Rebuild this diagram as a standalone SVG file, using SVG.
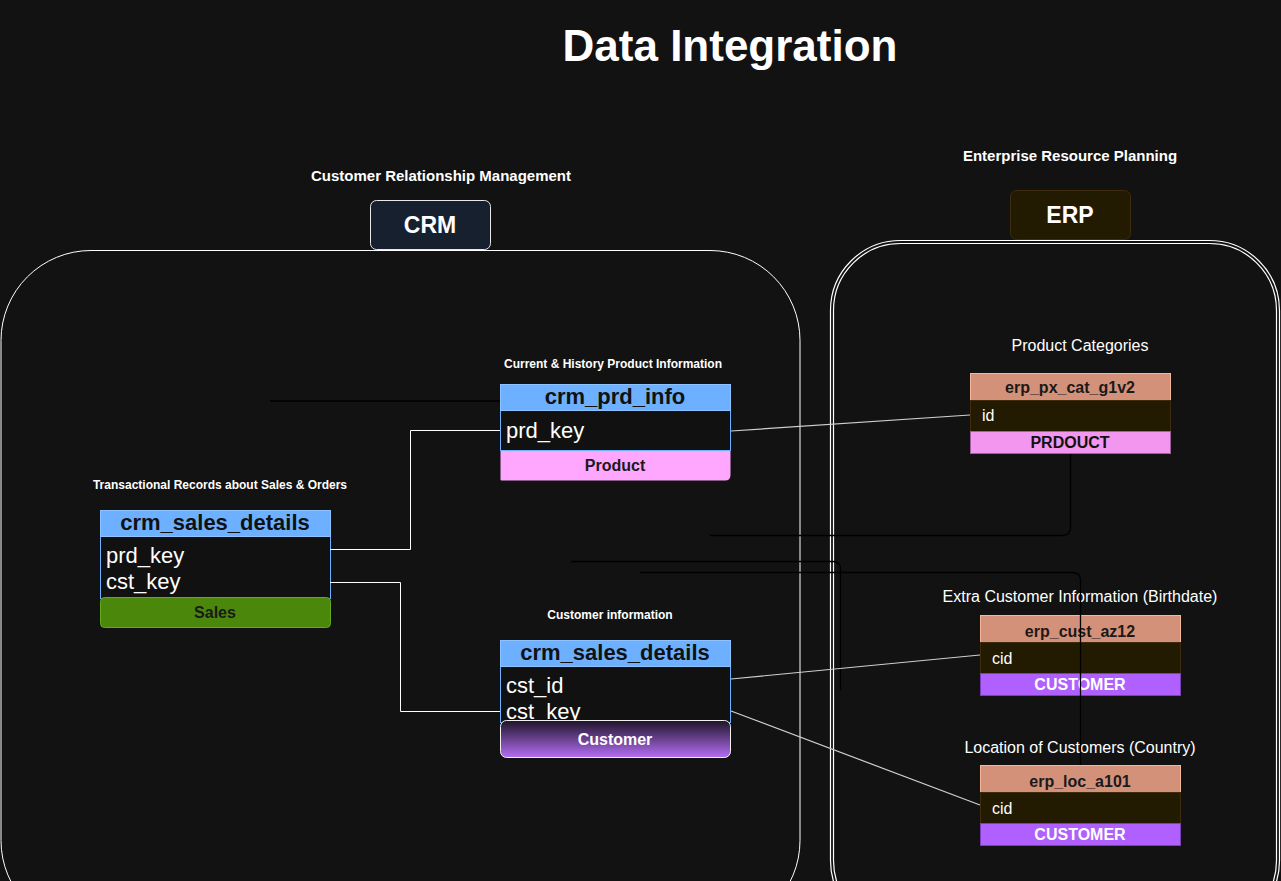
<svg xmlns="http://www.w3.org/2000/svg" width="1281" height="881" viewBox="0 0 1281 881">
<defs>
<linearGradient id="gCust" x1="0" y1="0" x2="0" y2="1">
<stop offset="0" stop-color="#1e1428"/>
<stop offset="1" stop-color="#b46ef5"/>
</linearGradient>
<style>
text{font-family:"Liberation Sans",Arial,sans-serif}
.lbl{fill:#fff;font-size:12px;font-weight:bold;text-anchor:middle}
.lbl2{fill:#fff;font-size:16px;text-anchor:middle}
.th{fill:#111;font-size:22px;font-weight:bold;text-anchor:middle}
.fld{fill:#fff;font-size:22px}
.ft{font-size:16px;font-weight:bold;text-anchor:middle}
.erh{fill:#d4917a;stroke:#f5b89a;stroke-width:1}
.erb{fill:#231a02;stroke:#3e2c0c;stroke-width:1}
.erht{fill:#1a1a1a;font-size:16px;font-weight:bold;text-anchor:middle}
.erf{fill:#fff;font-size:16px}
.wire{fill:none;stroke:#fff;stroke-width:1}
.gwire{fill:none;stroke:#cfcfcf;stroke-width:1.2}
.dwire{fill:none;stroke:#000;stroke-width:1.3}
</style>
</defs>
<rect x="0" y="0" width="1281" height="881" fill="#121212"/>
<text x="730" y="61" style="fill:#fff;font-size:44px;font-weight:bold;text-anchor:middle">Data Integration</text>

<g id="crm-container">
<rect x="1" y="250.5" width="799" height="680" rx="90" ry="90" fill="none" stroke="#fff" stroke-width="1"/>
</g>
<g id="erp-container">
<rect x="830.5" y="240.5" width="449" height="690" rx="70" ry="70" fill="none" stroke="#fff" stroke-width="1.2"/>
<rect x="833.5" y="243.5" width="443" height="684" rx="67" ry="67" fill="none" stroke="#fff" stroke-width="1.2"/>
</g>

<g id="crm-title">
<text x="441" y="181" style="fill:#fff;font-size:15px;font-weight:bold;text-anchor:middle">Customer Relationship Management</text>
<rect x="370.5" y="200.5" width="120" height="49" rx="6" fill="#16202e" stroke="#e8e8e8"/>
<text x="430" y="233" style="fill:#fff;font-size:23px;font-weight:bold;text-anchor:middle">CRM</text>
</g>
<g id="erp-title">
<text x="1070" y="161" style="fill:#fff;font-size:15px;font-weight:bold;text-anchor:middle">Enterprise Resource Planning</text>
<rect x="1010.5" y="190.5" width="120" height="49" rx="6" fill="#231a02" stroke="#3e2c0c"/>
<text x="1070" y="223" style="fill:#fff;font-size:23px;font-weight:bold;text-anchor:middle">ERP</text>
</g>

<g id="crm_prd_info">
<text class="lbl" x="613" y="368">Current &amp; History Product Information</text>
<path d="M500.5 450 V480 Q500.5 480.5 506 480.5 H725 Q730.5 480.5 730.5 475 V450 Z" fill="#ffa6ff"/>
<rect x="500.5" y="410.5" width="230" height="40" fill="#111" stroke="#6cb0ff"/>
<rect x="500.5" y="384.5" width="230" height="26" fill="#6cb0ff" stroke="#8cc2ff"/>
<text class="th" x="615" y="404">crm_prd_info</text>
<text class="fld" x="506" y="438">prd_key</text>
<text class="ft" x="615" y="471" fill="#1a1a1a">Product</text>
</g>

<g id="crm_sales_details">
<text class="lbl" x="220" y="489">Transactional Records about Sales &amp; Orders</text>
<rect x="100.5" y="536.5" width="230" height="62" fill="#111" stroke="#6cb0ff"/>
<rect x="100.5" y="510.5" width="230" height="26" fill="#6cb0ff" stroke="#8cc2ff"/>
<rect x="100.5" y="597.5" width="230" height="30" rx="4" fill="#4a870a" stroke="#64a824"/>
<text class="th" x="215" y="530">crm_sales_details</text>
<text class="fld" x="106" y="563">prd_key</text>
<text class="fld" x="106" y="589">cst_key</text>
<text class="ft" x="215" y="618" fill="#1a1a1a">Sales</text>
</g>

<g id="crm_cust_info">
<text class="lbl" x="610" y="619">Customer information</text>
<rect x="500.5" y="666.5" width="230" height="56" fill="#111" stroke="#6cb0ff"/>
<rect x="500.5" y="640.5" width="230" height="26" fill="#6cb0ff" stroke="#8cc2ff"/>
<text class="th" x="615" y="660">crm_sales_details</text>
<text class="fld" x="506" y="693">cst_id</text>
<text class="fld" x="506" y="719">cst_key</text>
<rect x="500.5" y="720.5" width="230" height="37" rx="6" fill="url(#gCust)" stroke="#f0f0f0"/>
<text class="ft" x="615" y="745" fill="#fff">Customer</text>
</g>

<g id="erp_px_cat_g1v2">
<text class="lbl2" x="1080" y="351">Product Categories</text>
<rect class="erh" x="970.5" y="373.5" width="200" height="27"/>
<rect class="erb" x="970.5" y="400.5" width="200" height="31"/>
<rect x="970.5" y="431.5" width="200" height="22" fill="#f296f0" stroke="#a0609e"/>
<text class="erht" x="1070" y="393">erp_px_cat_g1v2</text>
<text class="erf" x="982" y="421">id</text>
<text class="ft" x="1070" y="448" fill="#111">PRDOUCT</text>
</g>

<g id="erp_cust_az12">
<text class="lbl2" x="1080" y="602">Extra Customer Information (Birthdate)</text>
<rect class="erh" x="980.5" y="615.5" width="200" height="27"/>
<rect class="erb" x="980.5" y="642.5" width="200" height="31"/>
<rect x="980.5" y="673.5" width="200" height="22" fill="#b060ff" stroke="#7a40b8"/>
<text class="erht" x="1080" y="637">erp_cust_az12</text>
<text class="erf" x="992" y="664">cid</text>
<text class="ft" x="1080" y="690" fill="#fff">CUSTOMER</text>
</g>

<g id="erp_loc_a101">
<text class="lbl2" x="1080" y="753">Location of Customers (Country)</text>
<rect class="erh" x="980.5" y="765.5" width="200" height="27"/>
<rect class="erb" x="980.5" y="792.5" width="200" height="31"/>
<rect x="980.5" y="823.5" width="200" height="22" fill="#b060ff" stroke="#7a40b8"/>
<text class="erht" x="1080" y="787">erp_loc_a101</text>
<text class="erf" x="992" y="814">cid</text>
<text class="ft" x="1080" y="840" fill="#fff">CUSTOMER</text>
</g>

<g id="connectors">
<path class="dwire" d="M270 401 H500"/>
<path class="dwire" d="M710 535.5 H1062 Q1070.5 535.5 1070.5 527 V454"/>
<path class="dwire" d="M571 561.5 H833 Q840.5 561.5 840.5 569 V690"/>
<path class="dwire" d="M640 572.5 H1072 Q1080.5 572.5 1080.5 580 V765"/>
<path class="wire" d="M330 549.5 H410.5 V430.5 H500"/>
<path class="wire" d="M330 582.5 H400.5 V711.5 H500"/>
<path class="gwire" d="M731 431 L970 415"/>
<path class="gwire" d="M731 679 L980 655"/>
<path class="gwire" d="M731 711 L980 805"/>
</g>
</svg>
